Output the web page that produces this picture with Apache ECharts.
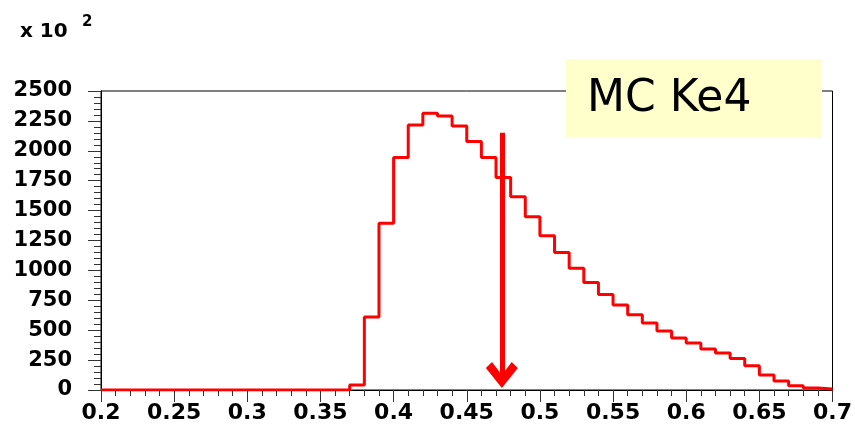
<!DOCTYPE html>
<html>
<head>
<meta charset="utf-8">
<script src="https://cdn.jsdelivr.net/npm/echarts@6/dist/echarts.min.js"></script>
<style>
	html, body { margin: 0; padding: 0; background: #fff; }
	#chart { width: 855px; height: 433px; }
</style>
</head>
<body>
<div id="chart"></div>
<script>
// bin lower edges, width 0.01, from 0.20 to 0.69
const binStart = 0.2;
const binWidth = 0.01;
// entries per bin (x 10^2)
const counts = [
	0, 0, 0, 0, 0, 0, 0, 0, 0, 0,
	0, 0, 0, 0, 0, 0, 0, 42, 610, 1395,
	1943, 2216, 2314, 2291, 2208, 2077, 1943, 1776, 1615, 1448,
	1289, 1150, 1019, 899, 799, 710, 629, 560, 493, 434,
	393, 342, 309, 264, 203, 125, 75, 36, 17, 8,
];
// cut position marked by the arrow
const cutValue = 0.474;
const arrowTop = 2150;
const arrowBottom = 125;
const labelText = 'MC Ke4';

// step points at left edges, plus closing point at the last right edge
const stepPoints = counts.map((c, i) => [binStart + i * binWidth, c]);
stepPoints.push([binStart + counts.length * binWidth, counts[counts.length - 1]]);

const chart = echarts.init(document.getElementById('chart'));
const axisFont = {
	fontFamily: 'DejaVu Sans',
	fontWeight: 'bold',
	fontSize: 21,
	color: '#000',
};

chart.setOption({
	animation: false,
	grid: {
		left: 101,
		right: 18,
		top: 91,
		bottom: 43,
		show: true,
		borderColor: '#000',
		borderWidth: 1,
	},
	xAxis: {
		type: 'value',
		min: 0.2,
		max: 0.7,
		interval: 0.05,
		axisLine: { lineStyle: { color: '#000', width: 1 } },
		axisTick: { length: 12, lineStyle: { color: '#333' } },
		minorTick: { show: true, splitNumber: 5, length: 6, lineStyle: { color: '#333' } },
		splitLine: { show: false },
		axisLabel: {
			...axisFont,
			fontSize: 22,
			margin: 12,
			formatter: (v) => String(Number(v.toFixed(2))),
		},
	},
	yAxis: {
		type: 'value',
		min: 0,
		max: 2500,
		interval: 250,
		axisLine: { show: true, lineStyle: { color: '#000', width: 1 } },
		axisTick: { show: true, length: 13, lineStyle: { color: '#333' } },
		minorTick: { show: true, splitNumber: 5, length: 7, lineStyle: { color: '#333' } },
		splitLine: { show: false },
		axisLabel: { ...axisFont, margin: 29, formatter: (v) => String(v) },
	},
	graphic: [
		{
			type: 'text',
			left: 20,
			top: 22,
			style: { text: 'x 10', font: 'bold 20px "DejaVu Sans"', fill: '#000' },
		},
		{
			type: 'text',
			left: 82,
			top: 15,
			style: { text: '2', font: 'bold 15px "DejaVu Sans"', fill: '#000' },
		},
		{
			type: 'group',
			left: 566,
			top: 59,
			z: 100,
			children: [
				{
					type: 'rect',
					shape: { x: 0, y: 0, width: 256, height: 78 },
					style: { fill: '#ffffcc' },
				},
				{
					type: 'text',
					x: 21,
					y: 19,
					style: { text: labelText, font: '44px "DejaVu Sans"', fill: '#000' },
				},
			],
		},
	],
	series: [
		{
			type: 'line',
			step: 'end',
			data: stepPoints,
			symbol: 'none',
			lineStyle: { color: '#ff0000', width: 3 },
			silent: true,
			markLine: {
				silent: true,
				symbol: ['none', 'path://M13,0 L26,17 L21,22 L13,11 L5,22 L0,17 Z'],
				symbolSize: [32, 26],
				label: { show: false },
				lineStyle: { color: '#ff0000', width: 5, type: 'solid' },
				data: [
					[
						{ coord: [cutValue, arrowTop] },
						{ coord: [cutValue, arrowBottom] },
					],
				],
			},
		},
	],
});
</script>
</body>
</html>
